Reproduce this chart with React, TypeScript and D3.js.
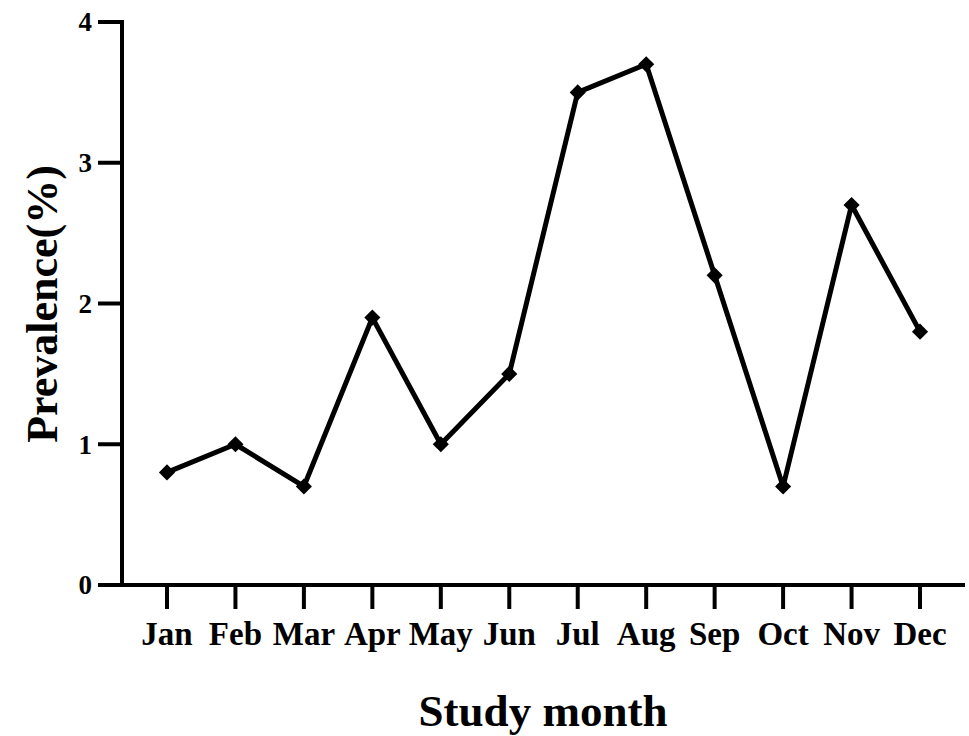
import React from "react";
import * as d3 from "d3";

const months = ["Jan", "Feb", "Mar", "Apr", "May", "Jun", "Jul", "Aug", "Sep", "Oct", "Nov", "Dec"];
const prevalence = [0.8, 1.0, 0.7, 1.9, 1.0, 1.5, 3.5, 3.7, 2.2, 0.7, 2.7, 1.8];
const yTicks = [0, 1, 2, 3, 4];

const W = 969;
const H = 736;
const left = 122;
const right = 965;
const top = 22;
const bottom = 585;
const font = "'Liberation Serif', 'Times New Roman', serif";

export default function App() {
  const x = d3.scalePoint<string>().domain(months).range([left, right]).padding(0.657);
  const y = d3.scaleLinear().domain([0, 4]).range([bottom, top]);
  const line = d3
    .line<number>()
    .x((_, i) => x(months[i]) as number)
    .y((d) => y(d));
  const marker = d3.symbol().type(d3.symbolSquare).size(130)();

  return (
    <svg
      width={W}
      height={H}
      style={{ position: "absolute", left: 0, top: 0, background: "#fff" }}
      fontFamily={font}
      fontWeight="bold"
    >
      {/* y axis */}
      <line x1={left} x2={left} y1={top - 2} y2={bottom + 2} stroke="#000" strokeWidth={4} />
      {yTicks.map((t) => (
        <g key={t}>
          <line x1={left - 24} x2={left} y1={y(t)} y2={y(t)} stroke="#000" strokeWidth={4} />
          <text x={left - 30} y={y(t)} dy="0.35em" textAnchor="end" fontSize={27}>
            {t}
          </text>
        </g>
      ))}
      {/* x axis */}
      <line x1={left - 24} x2={right} y1={bottom} y2={bottom} stroke="#000" strokeWidth={4} />
      {months.map((m) => (
        <g key={m}>
          <line x1={x(m)} x2={x(m)} y1={bottom} y2={bottom + 24} stroke="#000" strokeWidth={4} />
          <text x={x(m)} y={645} textAnchor="middle" fontSize={33}>
            {m}
          </text>
        </g>
      ))}
      {/* line */}
      <path d={line(prevalence) || ""} fill="none" stroke="#000" strokeWidth={5} strokeLinejoin="round" />
      {prevalence.map((v, i) => (
        <path
          key={i}
          d={marker || ""}
          transform={`translate(${x(months[i])},${y(v)}) rotate(45)`}
          fill="#000"
        />
      ))}
      {/* titles */}
      <text x={543} y={726} textAnchor="middle" fontSize={45}>
        Study month
      </text>
      <text transform="translate(57,304) rotate(-90)" textAnchor="middle" fontSize={44}>
        Prevalence(%)
      </text>
    </svg>
  );
}
